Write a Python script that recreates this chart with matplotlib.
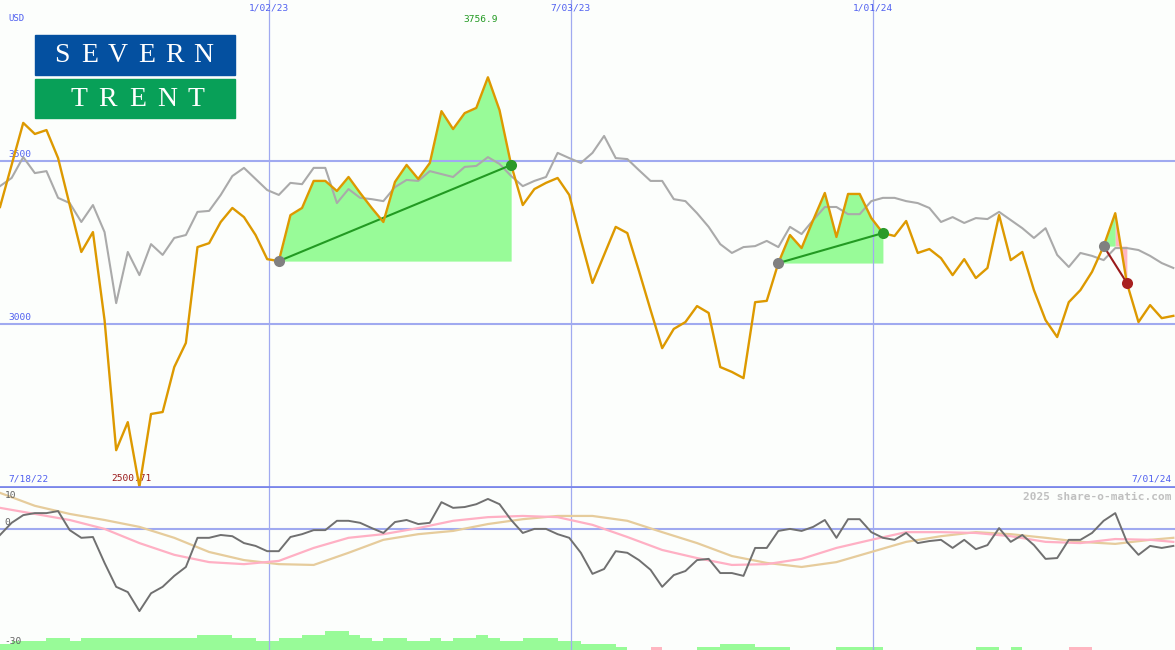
import pandas as pd
import matplotlib
matplotlib.use('Agg')
import matplotlib.pyplot as plt
import matplotlib.transforms as mtransforms
from matplotlib.patches import Rectangle

# weekly closes (USD), Severn Trent, plus comparison line
dates = pd.date_range('2022-07-24', periods=102, freq='7D')

close = [3359, 3488, 3617, 3583, 3595, 3509, 3365, 3221, 3282, 3012,
         2613, 2699, 2500.71, 2724, 2730, 2868, 2942, 3236, 3248, 3313,
         3356, 3328, 3273, 3199, 3193, 3334, 3356, 3439, 3439, 3408,
         3451, 3402, 3356, 3313, 3436, 3488, 3445, 3494, 3653, 3598,
         3647, 3663, 3756.9, 3656, 3488, 3365, 3414, 3433, 3448, 3396,
         3258, 3126, 3212, 3298, 3279, 3163, 3043, 2926, 2985, 3006,
         3055, 3034, 2868, 2853, 2834, 3067, 3071, 3187, 3273, 3233,
         3319, 3402, 3267, 3399, 3399, 3325, 3279, 3270, 3316, 3218,
         3230, 3202, 3150, 3199, 3141, 3172, 3334, 3196, 3221, 3104,
         3012, 2960, 3067, 3104, 3160, 3239, 3340, 3126, 3006, 3058,
         3018, 3025]

relative = [3423, 3448, 3512, 3463, 3469, 3387, 3371, 3313, 3365, 3282,
            3064, 3221, 3150, 3245, 3212, 3264, 3273, 3344, 3347, 3396,
            3454, 3479, 3445, 3411, 3396, 3433, 3429, 3479, 3479, 3371,
            3414, 3387, 3383, 3377, 3420, 3442, 3439, 3469, 3460, 3451,
            3482, 3485, 3512, 3491, 3454, 3423, 3439, 3451, 3525, 3509,
            3494, 3525, 3577, 3509, 3506, 3472, 3439, 3439, 3383, 3377,
            3340, 3298, 3245, 3218, 3236, 3239, 3255, 3236, 3298, 3276,
            3319, 3359, 3359, 3337, 3337, 3377, 3387, 3387, 3377, 3371,
            3356, 3313, 3328, 3310, 3325, 3322, 3344, 3319, 3294, 3264,
            3294, 3212, 3175, 3218, 3209, 3196, 3233, 3233, 3227, 3209,
            3187, 3172]

# lower panel
momentum = [-1.6, 1.4, 3.3, 3.8, 3.8, 4.3, -0.4, -2.3, -2.1, -8.5,
            -14.4, -15.7, -20.4, -16.0, -14.4, -11.7, -9.5, -2.3, -2.3, -1.6,
            -1.9, -3.6, -4.3, -5.6, -5.6, -2.1, -1.4, -0.4, -0.4, 1.9,
            1.9, 1.4, 0.1, -1.1, 1.6, 2.1, 1.1, 1.4, 6.5, 5.1,
            5.3, 6.0, 7.3, 6.0, 2.1, -1.1, -0.1, -0.1, -1.4, -2.3,
            -6.0, -11.2, -10.0, -5.6, -6.0, -7.8, -10.2, -14.4, -11.5, -10.5,
            -7.8, -7.5, -11.0, -11.0, -11.7, -4.8, -4.8, -0.6, -0.1, -0.6,
            0.4, 2.1, -2.3, 2.3, 2.3, -0.9, -2.3, -2.8, -1.1, -3.6,
            -3.1, -2.8, -4.8, -2.8, -5.1, -4.1, 0.1, -3.3, -1.6, -4.1,
            -7.5, -7.3, -2.8, -2.8, -1.1, 1.9, 3.8, -3.3, -6.5, -4.3,
            -4.8, -4.3]

sm_idx = list(range(0, 102, 3)) + [101]
pink_avg = [5.1, 3.6, 2.1, -0.1, -3.6, -6.5, -8.3, -8.8, -8.0, -4.8,
            -2.3, -1.4, 0.1, 1.9, 2.8, 3.1, 2.8, 0.9, -2.1, -5.3,
            -7.3, -9.0, -8.8, -7.5, -4.8, -2.8, -0.9, -0.9, -1.1, -1.9,
            -3.3, -3.6, -2.6, -2.8, -3.3]
tan_avg = [8.8, 5.6, 3.6, 2.1, 0.4, -2.3, -5.8, -7.8, -8.8, -9.0,
           -6.0, -2.8, -1.4, -0.6, 1.1, 2.3, 3.1, 3.1, 1.9, -0.9,
           -3.6, -6.8, -8.5, -9.5, -8.3, -5.8, -3.3, -1.9, -0.9, -1.4,
           -2.3, -3.3, -3.8, -2.8, -2.3]

bars = [1.6, 2.3, 2.3, 2.3, 3.0, 3.0, 2.3, 3.0, 3.0, 3.0,
        3.0, 3.0, 3.0, 3.0, 3.0, 3.0, 3.0, 3.7, 3.7, 3.7,
        3.0, 3.0, 2.3, 2.3, 3.0, 3.0, 3.7, 3.7, 4.7, 4.7,
        3.7, 3.0, 2.3, 3.0, 3.0, 2.3, 2.3, 3.0, 2.3, 3.0,
        3.0, 3.7, 3.0, 2.3, 2.3, 3.0, 3.0, 3.0, 2.3, 2.3,
        1.5, 1.5, 1.5, 0.8, 0, 0, -0.8, 0, 0, 0,
        0.8, 0.8, 1.5, 1.5, 1.5, 0.8, 0.8, 0.8, 0, 0,
        0, 0, 0.8, 0.8, 0.8, 0.8, 0, 0, 0, 0,
        0, 0, 0, 0, 0.8, 0.8, 0, 0.8, 0, 0,
        0, 0, -0.8, -0.8, 0, 0, 0, 0, 0, 0,
        0, 0]

# trades: (entry index, exit index)
trades = [(24, 44), (67, 76), (95, 97)]

grid_dates = ['2023-01-02', '2023-07-03', '2024-01-01']
grid_labels = ['1/02/23', '7/03/23', '1/01/24']
price_lines = [3000, 3500]

bg = '#fcfefc'
gridc = '#a0aaf0'
blue_txt = '#5060f0'
mono = 'DejaVu Sans Mono'
green_fill = '#98fb98'
pink_fill = '#ffb6c1'

fig = plt.figure(figsize=(11.75, 6.5), dpi=100)
fig.patch.set_facecolor(bg)
ax = fig.add_axes([0, 163 / 650, 1, 487 / 650])
ax2 = fig.add_axes([0, 0, 1, 162 / 650])
xlim = (pd.Timestamp('2022-07-24'), pd.Timestamp('2024-07-01'))
for a in (ax, ax2):
    a.set_facecolor(bg)
    a.set_xlim(xlim)
    a.set_xticks([])
    a.set_yticks([])
    for s in a.spines.values():
        s.set_visible(False)
    for d in grid_dates:
        a.axvline(pd.Timestamp(d), color=gridc, lw=0.9, zorder=2)

ax.set_ylim(2500, 3994)
ax2.set_ylim(-30, 10)

for p in price_lines:
    ax.axhline(p, color=gridc, lw=1.5, zorder=2)
    ax.text(0.007, p + 6, str(p), transform=ax.get_yaxis_transform(),
            color=blue_txt, fontsize=6.8, family=mono, va='bottom')
ax.axhline(2500, color='#7a86ea', lw=2, zorder=6, clip_on=False)

# trade fills + lines
for s, e in trades:
    base = close[s]
    runs = []
    for k in range(s, e):
        col = green_fill if close[k + 1] >= base else pink_fill
        if runs and runs[-1][0] == col:
            runs[-1][2] = k + 1
        else:
            runs.append([col, k, k + 1])
    for col, a0, a1 in runs:
        ax.fill_between(dates[a0:a1 + 1], close[a0:a1 + 1], base, color=col,
                        lw=0, zorder=1)
    win = close[e] >= base
    lc = '#229a22' if win else '#9a1a1a'
    ax.plot([dates[s], dates[e]], [close[s], close[e]], color=lc, lw=1.5, zorder=4)

ax.plot(dates, relative, color='#aaaaaa', lw=1.5, zorder=3)
ax.plot(dates, close, color='#dd9900', lw=1.7, zorder=4, clip_on=False)

for s, e in trades:
    win = close[e] >= close[s]
    ax.plot(dates[s], close[s], 'o', color='#808080', ms=8, mew=0, zorder=5)
    ax.plot(dates[e], close[e], 'o', color='#2a9a2a' if win else '#a82020',
            ms=8, mew=0, zorder=5)

# labels
imax = close.index(max(close))
imin = close.index(min(close))
off = mtransforms.offset_copy
ax.text(dates[imax], 0.96, f'{close[imax]:.1f}', color='#229a22', fontsize=6.8,
        family=mono, ha='center', va='center',
        transform=off(ax.get_xaxis_transform(), fig=fig, x=-7, y=0, units='dots'))
ax.text(dates[imin], 0.017, f'{close[imin]:.2f}', color='#9a1a1a', fontsize=6.8,
        family=mono, ha='center', va='center',
        transform=off(ax.get_xaxis_transform(), fig=fig, x=-8, y=0, units='dots'))
for d, lab in zip(grid_dates, grid_labels):
    ax.text(pd.Timestamp(d), 0.984, lab, color=blue_txt, fontsize=6.8, family=mono,
            ha='center', va='center', transform=ax.get_xaxis_transform())
ax.text(0.007, 0.017, '7/18/22', color=blue_txt, fontsize=6.8, family=mono,
        ha='left', va='center', transform=ax.transAxes)
ax.text(0.997, 0.017, '7/01/24', color=blue_txt, fontsize=6.8, family=mono,
        ha='right', va='center', transform=ax.transAxes)
ax.text(0.007, 0.963, 'USD', color=blue_txt, fontsize=6.5, family=mono,
        ha='left', va='center', transform=ax.transAxes)

# logo
ax.add_patch(Rectangle((35 / 1175, 1 - 75 / 487), 200 / 1175, 40 / 487,
                       transform=ax.transAxes, color='#0450a0', zorder=7))
ax.add_patch(Rectangle((35 / 1175, 1 - 118 / 487), 200 / 1175, 39 / 487,
                       transform=ax.transAxes, color='#08a058', zorder=7))
for ch, xc in zip('SEVERN', [62, 90, 118, 147, 175, 203]):
    ax.text(xc / 1175, 1 - 56 / 487, ch, color='white', fontsize=20,
            family='Liberation Serif', ha='center', va='center',
            transform=ax.transAxes, zorder=8)
for ch, xc in zip('TRENT', [79, 108, 138, 167, 196]):
    ax.text(xc / 1175, 1 - 99 / 487, ch, color='white', fontsize=20,
            family='Liberation Serif', ha='center', va='center',
            transform=ax.transAxes, zorder=8)

# lower panel
ax2.axhline(0, color=gridc, lw=1.5, zorder=2)
sm_dates = dates[sm_idx]
ax2.plot(sm_dates, tan_avg, color='#e6cc9c', lw=1.6, zorder=3)
ax2.plot(sm_dates, pink_avg, color='#ffb0c4', lw=1.6, zorder=3)
ax2.plot(dates, momentum, color='#707070', lw=1.4, zorder=4)
for d, b in zip(dates, bars):
    if b == 0:
        continue
    ax2.bar(d, abs(b), width=7, bottom=-30, align='edge',
            color=green_fill if b > 0 else pink_fill, lw=0, zorder=1)
for v, yy in [('10', 0.955), ('0', 0.79), ('-30', 0.055)]:
    ax2.text(0.004, yy, v, color='#606060', fontsize=6.8, family=mono,
             ha='left', va='center', transform=ax2.transAxes)
ax2.text(0.997, 0.945, '2025 share-o-matic.com', color='#c0c0c0', fontsize=8,
         family=mono, weight='bold', ha='right', va='center', transform=ax2.transAxes)

fig.savefig('out.png', dpi=100, facecolor=bg)
